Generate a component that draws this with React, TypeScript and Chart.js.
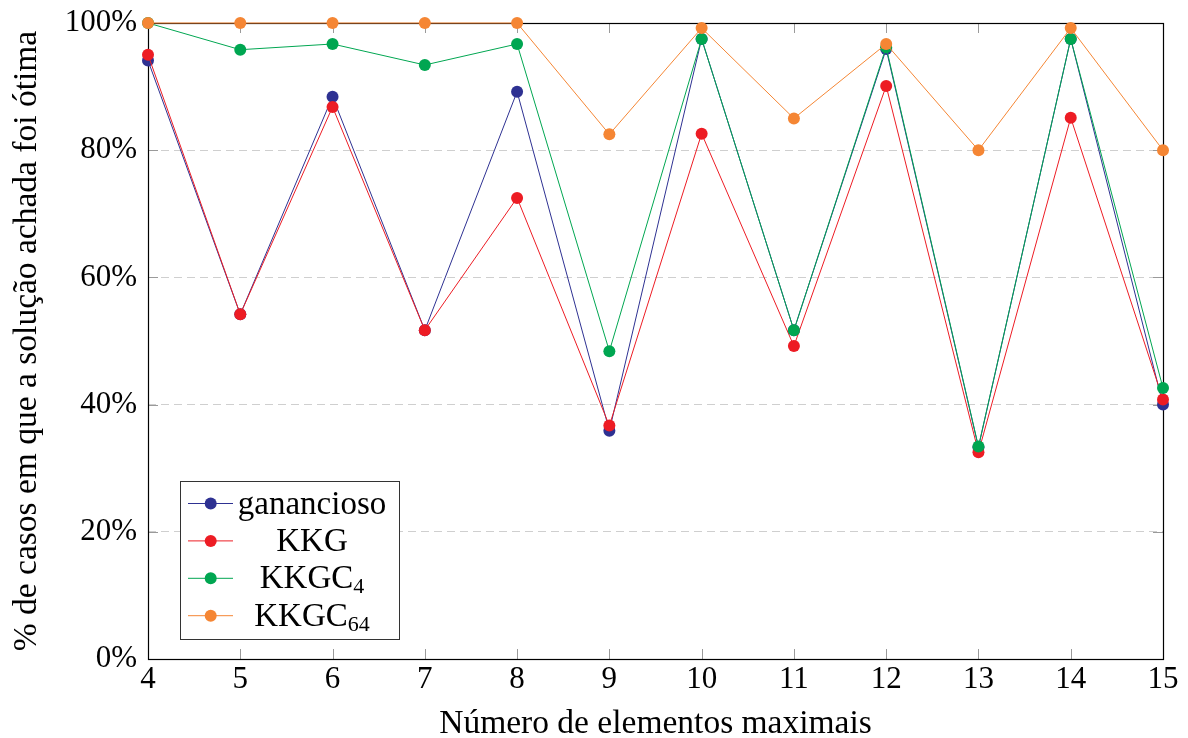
import React, { useEffect, useRef } from 'react';
import { Chart, registerables } from 'chart.js';

Chart.register(...registerables);

const categories = [4, 5, 6, 7, 8, 9, 10, 11, 12, 13, 14, 15];
const ganancioso = [94.1, 54.2, 88.4, 51.7, 89.2, 35.9, 97.5, 51.7, 95.9, 33.3, 97.5, 40.0];
const kkg = [95.0, 54.2, 86.8, 51.7, 72.5, 36.7, 82.6, 49.2, 90.1, 32.5, 85.1, 40.8];
const kkgc4 = [100, 95.8, 96.7, 93.4, 96.7, 48.4, 97.5, 51.7, 96.2, 33.4, 97.5, 42.6];
const kkgc64 = [100, 100, 100, 100, 100, 82.5, 99.2, 85.0, 96.7, 80.0, 99.2, 80.0];

const seriesNames = ['ganancioso', 'KKG', 'KKGC', 'KKGC'];
const seriesSubs = ['', '', '4', '64'];
const seriesValues = [ganancioso, kkg, kkgc4, kkgc64];
const seriesColors = ['#2e3192', '#ed1c24', '#00a651', '#f58634'];
const seriesOrder = [3, 2, 1, 0];

const yTicks = [0, 20, 40, 60, 80, 100];
const xTitle = 'Número de elementos maximais';
const yTitle = '% de casos em que a solução achada foi ótima';

const FONT = '"Liberation Serif", "Times New Roman", serif';

const framePlugin = {
  id: 'frame',
  beforeDatasetsDraw(chart: any) {
    const { ctx, chartArea, scales } = chart;
    const { left, right, top, bottom } = chartArea;
    const x = scales.x;
    const y = scales.y;
    ctx.save();
    ctx.strokeStyle = '#9a9a9a';
    ctx.lineWidth = 1;
    ctx.beginPath();
    categories.forEach((c, i) => {
      if (i === 0 || i === categories.length - 1) return;
      const px = Math.round(x.getPixelForValue(c)) + 0.5;
      ctx.moveTo(px, bottom);
      ctx.lineTo(px, bottom - 10);
      ctx.moveTo(px, top);
      ctx.lineTo(px, top + 10);
    });
    yTicks.forEach((v, i) => {
      if (i === 0 || i === yTicks.length - 1) return;
      const py = Math.round(y.getPixelForValue(v)) + 0.5;
      ctx.moveTo(left, py);
      ctx.lineTo(left + 10, py);
      ctx.moveTo(right, py);
      ctx.lineTo(right - 10, py);
    });
    ctx.stroke();
    ctx.strokeStyle = '#000';
    ctx.lineWidth = 1.2;
    ctx.strokeRect(Math.round(left) + 0.5, Math.round(top) + 0.5, Math.round(right - left), Math.round(bottom - top));
    ctx.restore();
  },
};

const legendPlugin = {
  id: 'customLegend',
  afterDraw(chart: any) {
    const { ctx } = chart;
    const boxL = 180, boxT = 481, boxW = 219, boxH = 158;
    ctx.save();
    ctx.fillStyle = '#fff';
    ctx.fillRect(boxL, boxT, boxW, boxH);
    ctx.strokeStyle = '#333';
    ctx.lineWidth = 1;
    ctx.strokeRect(boxL + 0.5, boxT + 0.5, boxW, boxH);
    seriesNames.forEach((name, i) => {
      const cy = 503.5 + i * 37.4;
      const color = seriesColors[i];
      ctx.strokeStyle = color;
      ctx.lineWidth = 1;
      ctx.beginPath();
      ctx.moveTo(188, cy);
      ctx.lineTo(233, cy);
      ctx.stroke();
      ctx.fillStyle = color;
      ctx.beginPath();
      ctx.arc(210.7, cy, 6, 0, Math.PI * 2);
      ctx.fill();
      const mainFont = `33px ${FONT}`;
      const subFont = `22px ${FONT}`;
      ctx.font = mainFont;
      const w1 = ctx.measureText(name).width;
      ctx.font = subFont;
      const sub = seriesSubs[i];
      const w2 = sub ? ctx.measureText(sub).width : 0;
      const total = w1 + w2;
      const startX = 312 - total / 2;
      const base = cy + 10;
      ctx.fillStyle = '#000';
      ctx.textBaseline = 'alphabetic';
      ctx.textAlign = 'left';
      ctx.font = mainFont;
      ctx.fillText(name, startX, base);
      if (sub) {
        ctx.font = subFont;
        ctx.fillText(sub, startX + w1, base + 5);
      }
    });
    ctx.restore();
  },
};

export default function App() {
  const canvasRef = useRef<HTMLCanvasElement | null>(null);

  useEffect(() => {
    if (!canvasRef.current) return;
    const datasets = seriesValues.map((vals, i) => ({
      label: seriesNames[i] + seriesSubs[i],
      data: categories.map((c, j) => ({ x: c, y: vals[j] })),
      borderColor: seriesColors[i],
      backgroundColor: seriesColors[i],
      pointBackgroundColor: seriesColors[i],
      pointBorderColor: seriesColors[i],
      pointBorderWidth: 0,
      pointRadius: 6,
      borderWidth: 1,
      tension: 0,
      fill: false,
      clip: false as any,
      order: seriesOrder[i],
    }));
    const chart = new Chart(canvasRef.current, {
      type: 'line',
      data: { datasets },
      plugins: [framePlugin, legendPlugin],
      options: {
        animation: false,
        responsive: true,
        maintainAspectRatio: false,
        layout: { padding: { top: 23, right: 25, left: 0, bottom: 0 } },
        plugins: {
          legend: { display: false },
          tooltip: { enabled: false },
          title: { display: false },
        },
        scales: {
          x: {
            type: 'linear',
            min: 4,
            max: 15,
            afterFit: (s: any) => {
              s.height = 79;
              s.paddingLeft = 0;
              s.paddingRight = 0;
            },
            afterBuildTicks: (s: any) => {
              s.ticks = categories.map((v) => ({ value: v }));
            },
            grid: { display: false, drawTicks: false },
            border: { display: false },
            ticks: {
              color: '#000',
              padding: 2,
              font: { family: FONT, size: 31 },
              maxRotation: 0,
              autoSkip: false,
            },
            title: {
              display: true,
              text: xTitle,
              color: '#000',
              font: { family: FONT, size: 33.5, lineHeight: 0.8 },
              padding: { top: 0, bottom: 0 },
            },
          },
          y: {
            type: 'linear',
            min: 0,
            max: 100,
            afterFit: (s: any) => {
              s.width = 148;
              s.paddingTop = 0;
              s.paddingBottom = 0;
            },
            afterBuildTicks: (s: any) => {
              s.ticks = yTicks.map((v) => ({ value: v }));
            },
            grid: {
              drawTicks: false,
              lineWidth: 1,
              color: (c: any) =>
                c.tick && (c.tick.value === 0 || c.tick.value === 100) ? 'rgba(0,0,0,0)' : '#cfcfcf',
            },
            border: { display: false, dash: [8, 5] },
            ticks: {
              color: '#000',
              padding: 11,
              font: { family: FONT, size: 31 },
              callback: (v: any) => `${v}%`,
            },
            title: {
              display: true,
              text: yTitle,
              color: '#000',
              font: { family: FONT, size: 33.5, lineHeight: 0.8 },
              padding: { top: 14, bottom: 0 },
            },
          },
        },
      },
    });
    return () => chart.destroy();
  }, []);

  return (
    <div style={{ position: 'fixed', left: 0, top: 0, width: 1188, height: 738, background: '#fff' }}>
      <canvas ref={canvasRef} />
    </div>
  );
}
